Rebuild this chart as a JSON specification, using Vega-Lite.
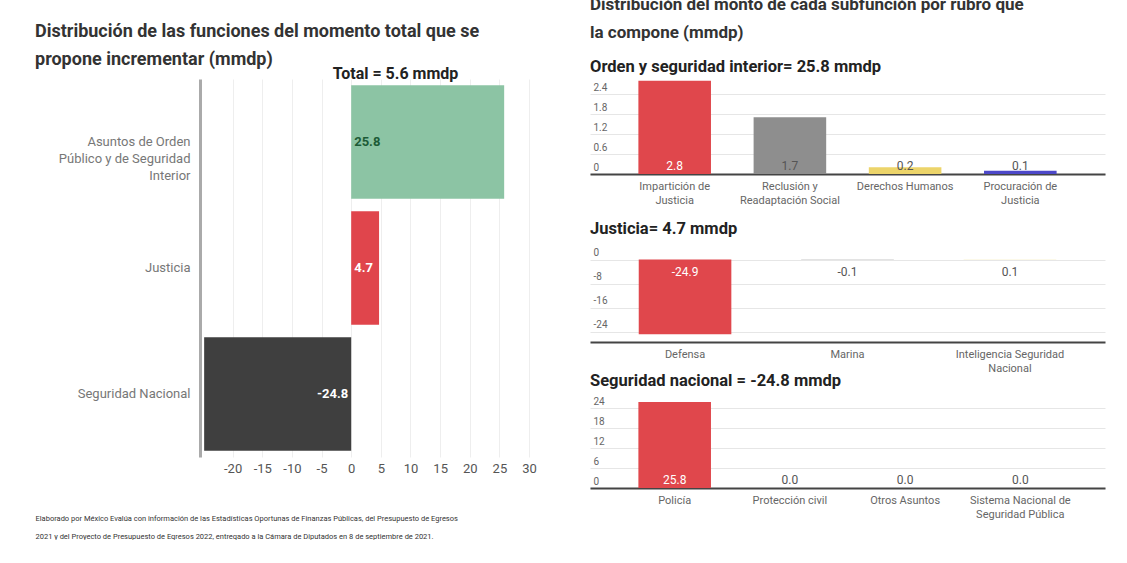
{
  "$schema": "https://vega.github.io/schema/vega-lite/v6.json",
  "background": "white",
  "padding": {"left": 35, "top": -5, "right": 5, "bottom": 0},
  "config": {
    "font": "Roboto",
    "view": {"stroke": null},
    "title": {"font": "Roboto"},
    "axis": {"labelFont": "Roboto", "titleFont": "Roboto"},
    "locale": {"number": {"decimal": ".", "thousands": ",", "grouping": [3], "currency": ["$", ""], "minus": "-"}}
  },
  "spacing": 53,
  "resolve": {"scale": {"color": "independent", "x": "independent", "y": "independent"}},
  "hconcat": [
    {
      "width": 335,
      "height": 378,
      "title": {
        "text": ["Distribución de las funciones del momento total que se", "propone incrementar (mmdp)"],
        "anchor": "start",
        "frame": "bounds",
        "fontSize": 18,
        "lineHeight": 28,
        "fontWeight": "bold",
        "color": "#333333",
        "offset": -18,
        "dy": -14
      },
      "data": {
        "values": [
          {"funcion": "Asuntos de Orden|Público y de Seguridad|Interior", "monto": 25.8},
          {"funcion": "Justicia", "monto": 4.7},
          {"funcion": "Seguridad Nacional", "monto": -24.8}
        ]
      },
      "encoding": {
        "y": {
          "field": "funcion",
          "type": "nominal",
          "sort": null,
          "scale": {"paddingInner": 0.1, "paddingOuter": 0.05},
          "axis": {
            "title": null,
            "labelExpr": "split(datum.label, '|')",
            "labelAlign": "right",
            "labelFontSize": 13,
            "labelColor": "#777777",
            "labelLineHeight": 17,
            "labelLimit": 200,
            "labelPadding": 10,
            "ticks": false,
            "domainColor": "#aaaaaa",
            "domainWidth": 3,
            "minExtent": 165,
            "maxExtent": 165
          }
        }
      },
      "layer": [
        {
          "mark": {"type": "bar"},
          "encoding": {
            "x": {
              "field": "monto",
              "type": "quantitative",
              "scale": {"domain": [-25.5, 31], "nice": false, "zero": false},
              "axis": {
                "orient": "bottom",
                "values": [-20, -15, -10, -5, 0, 5, 10, 15, 20, 25, 30],
                "labelFontSize": 13,
                "labelColor": "#555555",
                "labelPadding": 5,
                "ticks": false,
                "domain": false,
                "grid": true,
                "gridColor": "#eeeeee",
                "title": ["Elaborado por México Evalúa con información de las Estadísticas Oportunas de Finanzas Públicas, del Presupuesto de Egresos", "2021 y del Proyecto de Presupuesto de Egresos 2022, entregado a la Cámara de Diputados en 8 de septiembre de 2021."],
                "titleFontSize": 7.5,
                "titleFontWeight": "normal",
                "titleColor": "#333333",
                "titleAnchor": "start",
                "titleAlign": "left",
                "titleX": -165,
                "titleLineHeight": 18,
                "titlePadding": 39
              }
            },
            "color": {
              "field": "funcion",
              "type": "nominal",
              "scale": {
                "domain": ["Asuntos de Orden|Público y de Seguridad|Interior", "Justicia", "Seguridad Nacional"],
                "range": ["#8cc4a4", "#e0454c", "#3f3f3f"]
              },
              "legend": null
            }
          }
        },
        {
          "transform": [{"filter": "datum.monto >= 0"}],
          "mark": {"type": "text", "align": "left", "dx": 3, "fontSize": 13, "fontWeight": "bold"},
          "encoding": {
            "x": {
              "datum": 0,
              "axis": {
                "orient": "top",
                "labels": false,
                "ticks": false,
                "domain": false,
                "grid": false,
                "title": "Total = 5.6 mmdp",
                "titleFontSize": 16,
                "titleFontWeight": "bold",
                "titleColor": "#222222",
                "titleX": 195,
                "titlePadding": -2
              }
            },
            "text": {"field": "monto", "type": "quantitative", "format": ".1f"},
            "color": {
              "condition": {"test": "datum.funcion === 'Justicia'", "value": "white"},
              "value": "#1d5b37"
            }
          }
        },
        {
          "transform": [{"filter": "datum.monto < 0"}],
          "mark": {"type": "text", "align": "right", "dx": -3, "fontSize": 13, "fontWeight": "bold", "color": "white"},
          "encoding": {
            "x": {"datum": 0, "axis": null},
            "text": {"field": "monto", "type": "quantitative", "format": ".1f"}
          }
        }
      ]
    },
    {
      "title": {
        "text": ["Distribución del monto de cada subfunción por rubro que", "la compone (mmdp)"],
        "anchor": "start",
        "frame": "bounds",
        "fontSize": 17,
        "lineHeight": 28,
        "fontWeight": "bold",
        "color": "#333333",
        "offset": -5,
        "dy": -22
      },
      "spacing": 0,
      "resolve": {"scale": {"color": "independent", "x": "independent", "y": "independent"}},
      "vconcat": [
        {
          "width": 515,
          "height": 95,
          "title": {"text": "Orden y seguridad interior= 25.8 mmdp", "anchor": "start", "fontSize": 16.5, "fontWeight": "bold", "color": "#222222", "offset": 4},
          "data": {
            "values": [
              {"rubro": "Impartición de|Justicia", "monto": 2.8},
              {"rubro": "Reclusión y|Readaptación Social", "monto": 1.7},
              {"rubro": "Derechos Humanos", "monto": 0.2},
              {"rubro": "Procuración de|Justicia", "monto": 0.1}
            ]
          },
          "encoding": {
            "x": {
              "field": "rubro",
              "type": "nominal",
              "sort": null,
              "scale": {"paddingInner": 0.37, "paddingOuter": 0.42},
              "axis": {"title": null, "labelAngle": 0, "labelExpr": "split(datum.label, '|')", "labelFontSize": 11, "labelColor": "#666666", "labelLineHeight": 14, "labelPadding": 6, "ticks": false, "domainColor": "#444444", "domainWidth": 2, "minExtent": 46}
            }
          },
          "layer": [
            {
              "mark": {"type": "bar"},
              "encoding": {
                "y": {
                  "field": "monto",
                  "type": "quantitative",
                  "scale": {"domain": [0, 2.85], "nice": false},
                  "axis": {"title": null, "values": [0, 0.6, 1.2, 1.8, 2.4], "format": ".1~f", "labelOverlap": false, "labelAlign": "left", "labelBaseline": "alphabetic", "labelOffset": -4, "labelPadding": -3, "tickSize": 0, "ticks": false, "domain": false, "labelFontSize": 10, "labelColor": "#666666", "gridColor": "#e6e6e6"}
                },
                "color": {
                  "field": "rubro",
                  "type": "nominal",
                  "scale": {"domain": ["Impartición de|Justicia", "Reclusión y|Readaptación Social", "Derechos Humanos", "Procuración de|Justicia"], "range": ["#e0474c", "#8e8e8e", "#ecd46a", "#4d48c9"]},
                  "legend": null
                }
              }
            },
            {
              "mark": {"type": "text", "dy": -8, "fontSize": 12},
              "encoding": {
                "y": {"datum": 0, "axis": {"title": null, "values": [0, 0.6, 1.2, 1.8, 2.4], "format": ".1~f", "labelOverlap": false, "labelAlign": "left", "labelBaseline": "alphabetic", "labelOffset": -4, "labelPadding": -3, "tickSize": 0, "ticks": false, "domain": false, "labelFontSize": 10, "labelColor": "#666666", "gridColor": "#e6e6e6"}},
                "text": {"field": "monto", "type": "quantitative", "format": ".1f"},
                "color": {"condition": {"test": "datum.monto > 2", "value": "white"}, "value": "#555555"}
              }
            }
          ]
        },
        {
          "width": 515,
          "height": 93,
          "title": {"text": "Justicia= 4.7 mmdp", "anchor": "start", "fontSize": 16.5, "fontWeight": "bold", "color": "#222222", "offset": 10.5},
          "data": {
            "values": [
              {"rubro": "Defensa", "monto": -24.9},
              {"rubro": "Marina", "monto": -0.1},
              {"rubro": "Inteligencia Seguridad|Nacional", "monto": 0.1}
            ]
          },
          "encoding": {
            "x": {
              "field": "rubro",
              "type": "nominal",
              "sort": null,
              "scale": {"paddingInner": 0.43, "paddingOuter": 0.3},
              "axis": {"title": null, "labelAngle": 0, "labelExpr": "split(datum.label, '|')", "labelFontSize": 11, "labelColor": "#666666", "labelLineHeight": 14, "labelPadding": 6, "ticks": false, "domainColor": "#444444", "domainWidth": 2}
            }
          },
          "layer": [
            {
              "mark": {"type": "bar"},
              "encoding": {
                "y": {
                  "field": "monto",
                  "type": "quantitative",
                  "scale": {"domain": [-27.5, 3.5], "nice": false, "zero": false},
                  "axis": {"title": null, "values": [0, -8, -16, -24], "labelOverlap": false, "labelAlign": "left", "labelBaseline": "alphabetic", "labelOffset": -4, "labelPadding": -3, "tickSize": 0, "ticks": false, "domain": false, "labelFontSize": 10, "labelColor": "#666666", "gridColor": "#e6e6e6"}
                },
                "color": {
                  "field": "rubro",
                  "type": "nominal",
                  "scale": {"domain": ["Defensa", "Marina", "Inteligencia Seguridad|Nacional"], "range": ["#e0474c", "#8e8e8e", "#f3e6a6"]},
                  "legend": null
                }
              }
            },
            {
              "mark": {"type": "text", "dy": 12, "fontSize": 12},
              "encoding": {
                "y": {"datum": 0, "axis": {"title": null, "values": [0, -8, -16, -24], "labelOverlap": false, "labelAlign": "left", "labelBaseline": "alphabetic", "labelOffset": -4, "labelPadding": -3, "tickSize": 0, "ticks": false, "domain": false, "labelFontSize": 10, "labelColor": "#666666", "gridColor": "#e6e6e6"}},
                "text": {"field": "monto", "type": "quantitative", "format": ".1f"},
                "color": {"condition": {"test": "datum.monto < -2", "value": "white"}, "value": "#555555"}
              }
            }
          ]
        },
        {
          "width": 515,
          "height": 92,
          "title": {"text": "Seguridad nacional = -24.8 mmdp", "anchor": "start", "fontSize": 16.5, "fontWeight": "bold", "color": "#222222", "offset": 6.5},
          "data": {
            "values": [
              {"rubro": "Policía", "monto": 25.8},
              {"rubro": "Protección civil", "monto": 0.0},
              {"rubro": "Otros Asuntos", "monto": 0.0},
              {"rubro": "Sistema Nacional de|Seguridad Pública", "monto": 0.0}
            ]
          },
          "encoding": {
            "x": {
              "field": "rubro",
              "type": "nominal",
              "sort": null,
              "scale": {"paddingInner": 0.37, "paddingOuter": 0.42},
              "axis": {"title": null, "labelAngle": 0, "labelExpr": "split(datum.label, '|')", "labelFontSize": 11, "labelColor": "#666666", "labelLineHeight": 14, "labelPadding": 6, "ticks": false, "domainColor": "#444444", "domainWidth": 2}
            }
          },
          "layer": [
            {
              "mark": {"type": "bar"},
              "encoding": {
                "y": {
                  "field": "monto",
                  "type": "quantitative",
                  "scale": {"domain": [0, 27.6], "nice": false},
                  "axis": {"title": null, "values": [0, 6, 12, 18, 24], "labelOverlap": false, "labelAlign": "left", "labelBaseline": "alphabetic", "labelOffset": -4, "labelPadding": -3, "tickSize": 0, "ticks": false, "domain": false, "labelFontSize": 10, "labelColor": "#666666", "gridColor": "#e6e6e6"}
                },
                "color": {
                  "field": "rubro",
                  "type": "nominal",
                  "scale": {"domain": ["Policía", "Protección civil", "Otros Asuntos", "Sistema Nacional de|Seguridad Pública"], "range": ["#e0474c", "#8e8e8e", "#ecd46a", "#4d48c9"]},
                  "legend": null
                }
              }
            },
            {
              "mark": {"type": "text", "dy": -8, "fontSize": 12},
              "encoding": {
                "y": {"datum": 0, "axis": {"title": null, "values": [0, 6, 12, 18, 24], "labelOverlap": false, "labelAlign": "left", "labelBaseline": "alphabetic", "labelOffset": -4, "labelPadding": -3, "tickSize": 0, "ticks": false, "domain": false, "labelFontSize": 10, "labelColor": "#666666", "gridColor": "#e6e6e6"}},
                "text": {"field": "monto", "type": "quantitative", "format": ".1f"},
                "color": {"condition": {"test": "datum.monto > 2", "value": "white"}, "value": "#555555"}
              }
            }
          ]
        }
      ]
    }
  ]
}
